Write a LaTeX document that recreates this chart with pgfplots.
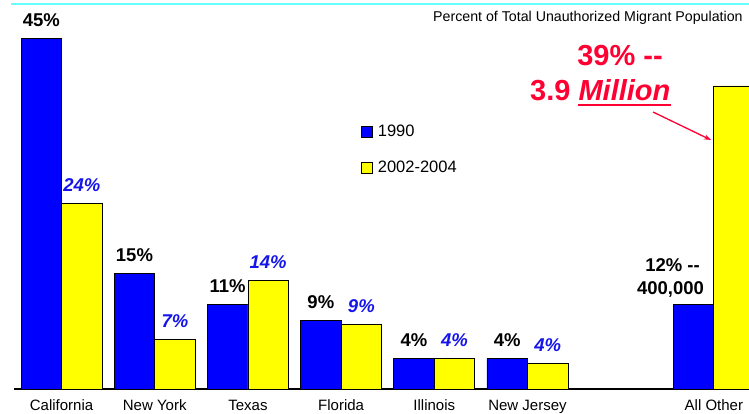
\documentclass[border=0pt]{standalone}
\usepackage{fontspec}
\setmainfont{Liberation Sans}
\usepackage{pgfplots}
\pgfplotsset{compat=1.18}
\usetikzlibrary{arrows.meta}
\definecolor{barblue}{RGB}{0,0,255}
\definecolor{baryellow}{RGB}{255,255,0}
\definecolor{lblblue}{RGB}{20,20,235}
\definecolor{annred}{RGB}{255,0,51}
\definecolor{topcyan}{RGB}{102,255,255}
\newcommand{\fs}[1]{\fontsize{#1}{#1}\selectfont}

\begin{document}
\begin{tikzpicture}[x=1pt,y=1pt]
\useasboundingbox (0,0) rectangle (749,413);
\clip (0,0) rectangle (749,413);
\fill[white] (0,0) rectangle (749,413);
\draw[topcyan, line width=2pt] (11,408.5) -- (749,408.5);
\begin{axis}[
  at={(14pt,24pt)}, anchor=south west,
  scale only axis, width=735pt, height=389pt,
  xmin=-0.51, xmax=7.377, ymin=0, ymax=50,
  axis x line*=bottom, axis y line=none,
  x axis line style={line width=1.5pt,-},
  ybar=0pt, bar width=40.5pt,
  xtick={0,1,2,3,4,5,7},
  xticklabels={California,New York,Texas,Florida,Illinois,New Jersey,All Other},
  major tick length=0pt,
  xticklabel style={anchor=base, yshift=-21.5pt, font=\fs{15}},
  ytick=\empty,
  legend style={draw=none, fill=none, at={(0.472,0.684)}, anchor=north west, font=\fs{16.5}, row sep=19pt, inner sep=0pt},
  legend cell align=left,
]
\addplot[fill=barblue, draw=black, line width=0.8pt,
  nodes near coords, point meta=explicit symbolic,
  every node near coord/.append style={font=\bfseries\fs{18.5}, text=black, anchor=base, yshift=12pt, inner sep=0pt},
  legend image code/.code={\draw[fill=barblue,draw=black,line width=0.6pt] (0pt,-5.5pt) rectangle (11pt,5.5pt); \path (14pt,0pt);}]
coordinates {(0,45) [45\%] (1,14.9) [15\%] (2,10.9) [11\%] (3,8.8) [9\%] (4,3.9) [4\%] (5,3.9) [4\%] (7,10.9) [\relax]};
\addlegendentry{1990}
\addplot[fill=baryellow, draw=black, line width=0.8pt,
  nodes near coords, point meta=explicit symbolic,
  every node near coord/.append style={font=\bfseries\itshape\fs{18.5}, text=lblblue, anchor=base, yshift=12pt, inner sep=0pt},
  legend image code/.code={\draw[fill=baryellow,draw=black,line width=0.6pt] (0pt,-5.5pt) rectangle (11pt,5.5pt); \path (14pt,0pt);}]
coordinates {(0,23.9) [24\%] (1,6.4) [7\%] (2,13.9) [14\%] (3,8.3) [9\%] (4,3.9) [4\%] (5,3.3) [4\%] (7,38.95) [\relax]};
\addlegendentry{2002-2004}
\end{axis}
\node[anchor=base west, font=\fs{14.2}, inner sep=0pt] at (433,391.3) {Percent of Total Unauthorized Migrant Population};
\node[anchor=base, font=\bfseries\fs{18.5}, inner sep=0pt] at (672.5,142) {12\% -{}-};
\node[anchor=base, font=\bfseries\fs{18.5}, inner sep=0pt] at (670.5,119) {400,000};
\node[anchor=base, text=annred, font=\bfseries\fs{29}, inner sep=0pt] at (620,347) {39\% -{}-};
\node[anchor=base west, text=annred, font=\bfseries\fs{29}, inner sep=0pt] at (530,312) {3.9 \textit{Million}};
\draw[annred, line width=2.5pt] (578,308) -- (671,308);
\draw[annred, line width=1.3pt, -{Stealth[length=7pt,width=5pt]}] (653,301) -- (711,273);
\end{tikzpicture}
\end{document}
